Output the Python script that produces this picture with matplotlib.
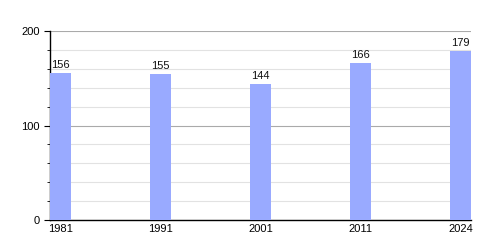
import numpy as np
import matplotlib
matplotlib.use('Agg')
import matplotlib.pyplot as plt
from matplotlib.ticker import MultipleLocator

plt.rcParams['font.family'] = ['Liberation Sans', 'DejaVu Sans']

# Datos
years = ['1981', '1991', '2001', '2011', '2024']
population = [156, 155, 144, 166, 179]

fig = plt.figure(figsize=(5, 2.5), dpi=100)
ax = fig.add_axes([0.1, 0.12, 0.842, 0.756])

x = np.arange(len(years))
ax.bar(x, population, width=0.21, color='#99aaff', zorder=3)
for xi, v in zip(x, population):
    ax.text(xi, v + 3, str(v), ha='center', va='bottom', fontsize=8, color='#111111', zorder=4)

ax.set_xlim(-0.105, 4.105)
ax.set_ylim(0, 200)
ax.set_xticks(x)
ax.set_xticklabels(years, fontsize=8)
ax.yaxis.set_major_locator(MultipleLocator(100))
ax.yaxis.set_minor_locator(MultipleLocator(20))
ax.tick_params(axis='y', labelsize=8, length=4, width=0.8)
ax.tick_params(axis='y', which='minor', length=2)
ax.tick_params(axis='x', length=0, pad=3)

ax.grid(axis='y', which='major', color='#aaaaaa', linewidth=0.8, zorder=0)
ax.grid(axis='y', which='minor', color='#e2e2e2', linewidth=0.8, zorder=0)
for s in ['top', 'right']:
    ax.spines[s].set_visible(False)
ax.spines['left'].set_linewidth(1)
ax.spines['bottom'].set_linewidth(1)

fig.savefig('out.png', dpi=100)
